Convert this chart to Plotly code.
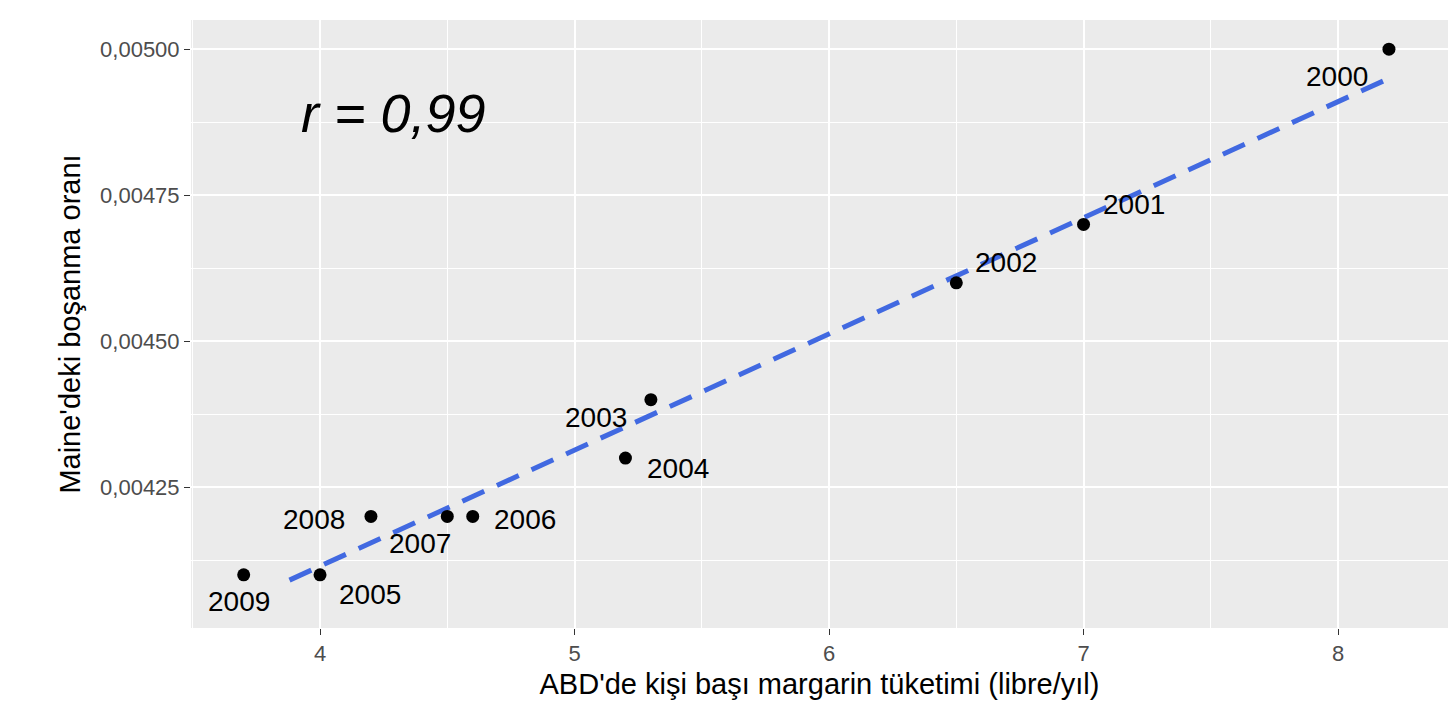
import plotly.graph_objects as go

# data
margarine = [8.2, 7.0, 6.5, 5.3, 5.2, 4.0, 4.6, 4.5, 4.2, 3.7]
divorce = [0.00500, 0.00470, 0.00460, 0.00440, 0.00430, 0.00410, 0.00420, 0.00420, 0.00420, 0.00410]
years = ["2000", "2001", "2002", "2003", "2004", "2005", "2006", "2007", "2008", "2009"]
trend_x = [3.88, 8.2]
trend_y = [0.004091, 0.00495]

# label offsets in pixels (dx, dy with y upwards)
label_dx = [-52, 50, 50, -55, 53, 50, 52, -27, -57, -5]
label_dy = [-27, 20, 20, -18, -10, -20, -3, -27, -3, -27]

fig = go.Figure()
fig.add_trace(go.Scatter(
    x=trend_x, y=trend_y, mode="lines",
    line=dict(color="#4169E1", width=5, dash="24px,14px"), hoverinfo="skip"))
fig.add_trace(go.Scatter(
    x=margarine, y=divorce, mode="markers",
    marker=dict(color="black", size=13)))

for x, y, t, dx, dy in zip(margarine, divorce, years, label_dx, label_dy):
    fig.add_annotation(x=x, y=y, text=t, showarrow=False, xshift=dx, yshift=dy,
                       font=dict(size=28, color="black"))

fig.add_annotation(x=4.29, y=0.00489, text="<i>r = 0,99</i>", showarrow=False,
                   font=dict(size=54, color="black"))

fig.update_layout(
    width=1456, height=720, showlegend=False,
    margin=dict(l=183, r=16, t=12, b=100),
    paper_bgcolor="white", plot_bgcolor="#EBEBEB",
    font=dict(family="Liberation Sans, Arial, sans-serif"),
    separators=",.",
)
fig.update_xaxes(
    range=[3.493, 8.432], tickvals=[4, 5, 6, 7, 8], automargin=False,
    gridcolor="white", gridwidth=2, zeroline=False,
    ticks="outside", ticklen=6, tickcolor="#333333",
    tickfont=dict(size=22, color="#4D4D4D"),
    title=dict(text="ABD'de kişi başı margarin tüketimi (libre/yıl)",
               font=dict(size=29, color="black"), standoff=8),
    minor=dict(tickvals=[3.5, 4.5, 5.5, 6.5, 7.5], gridcolor="white", gridwidth=1, showgrid=True),
)
fig.update_yaxes(
    range=[0.004009, 0.00505], tickvals=[0.00425, 0.0045, 0.00475, 0.005],
    tickformat=".5f", automargin=False, gridcolor="white", gridwidth=2, zeroline=False,
    ticks="outside", ticklen=6, tickcolor="#333333",
    tickfont=dict(size=22, color="#4D4D4D"),
    title=dict(text="Maine'deki boşanma oranı",
               font=dict(size=29, color="black"), standoff=10),
    minor=dict(tickvals=[0.004125, 0.004375, 0.004625, 0.004875], gridcolor="white",
               gridwidth=1, showgrid=True),
)

fig.write_html("out.html")
